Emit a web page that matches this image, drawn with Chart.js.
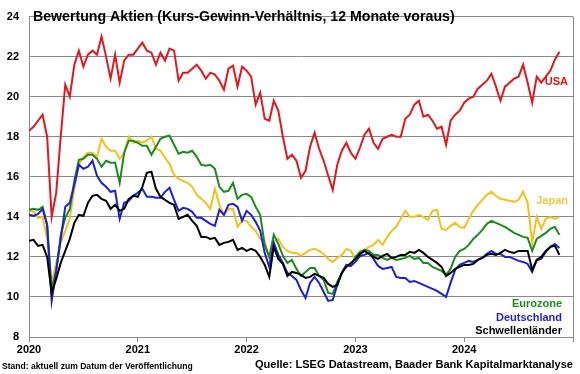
<!DOCTYPE html>
<html>
<head>
<meta charset="utf-8">
<script src="https://cdn.jsdelivr.net/npm/chart.js@4.4.1/dist/chart.umd.min.js"></script>
<style>
  html, body { margin: 0; padding: 0; background: #fff; }
  #wrap { width: 580px; height: 374px; }
</style>
</head>
<body>
<div id="wrap"><canvas id="peChart" width="580" height="374"></canvas></div>
<script>
// semi-monthly readings, first point = Jan 2020
const startYear = 2020;
const pointsPerYear = 24;

const usa = [
  18.3, 18.5, 18.8, 19.1, 18.0, 14.0, 15.2, 18.0, 20.6, 20.0, 21.6, 22.3, 21.5, 22.1, 22.3, 22.1, 23.0, 22.0, 20.9, 22.1, 20.7, 21.8, 22.1, 22.1, 22.4,
  22.7, 22.3, 22.2, 21.6, 22.2, 21.8, 22.4, 22.3, 20.8, 21.2, 21.2, 21.4, 21.6, 21.3, 20.9, 21.2, 21.1, 20.8, 20.35, 21.4, 21.55, 20.5, 21.5, 21.3,
  21.0, 19.6, 20.2, 18.9, 18.8, 19.8, 19.3, 18.0, 16.9, 17.1, 16.8, 15.95, 16.3, 17.5, 18.2, 17.4, 16.8, 16.05, 15.35, 16.6, 17.3, 17.7, 17.2, 16.9,
  17.45, 18.1, 18.4, 17.7, 17.4, 17.9, 18.0, 18.1, 18.0, 18.0, 18.9, 19.1, 19.6, 19.8, 19.0, 19.1, 18.8, 18.4, 18.5, 17.6, 18.8, 19.1, 19.3, 19.7,
  19.9, 20.0, 20.4, 20.6, 20.8, 21.15, 20.5, 19.8, 20.5, 20.7, 20.9, 21.0, 21.6, 20.7, 19.7, 21.0, 20.7, 21.0, 21.3, 21.85, 22.25
];

const japan = [
  14.35, 14.25, 13.95, 14.0, 12.9, 10.7, 11.7, 12.7, 13.3, 13.9, 15.4, 16.6, 17.0, 17.2, 17.2, 17.0, 17.9, 17.5, 17.3, 17.3, 16.9, 17.2, 18.0, 17.7, 17.8,
  17.7, 17.8, 18.0, 17.4, 17.3, 16.95, 16.65, 16.1, 15.9, 15.8, 15.7, 15.5, 15.1, 14.9, 14.7, 14.4, 15.4, 14.6, 14.1, 14.4, 14.4, 13.5, 13.8, 13.8,
  13.5, 13.3, 12.9, 12.75, 11.95, 12.8, 12.9, 12.5, 12.3, 12.2, 12.2, 12.05, 12.2, 12.35, 12.4, 12.3, 12.15, 11.9, 11.75, 11.95, 12.1, 12.4, 12.3, 11.9,
  12.0, 12.35, 12.5, 12.6, 12.85, 12.6, 13.0, 13.3, 13.5, 13.9, 14.3, 14.0, 14.0, 14.1, 14.0, 13.85, 14.3, 14.35, 13.4, 13.35, 13.55, 13.7, 13.5, 13.45,
  13.9, 14.3, 14.6, 14.85, 15.1, 15.25, 15.05, 14.9, 14.85, 14.8, 14.75, 14.85, 15.25, 14.7, 12.7, 14.0, 13.4, 13.9, 14.0, 13.9, 14.0
];

const eurozone = [
  14.35, 14.4, 14.35, 14.5, 13.6, 10.4, 11.3, 13.1, 13.95, 14.4, 15.8, 16.85, 16.9, 17.1, 17.1, 16.9, 16.5, 16.8, 16.7, 16.7, 15.7, 17.2, 17.8, 17.8, 17.7,
  17.55, 17.55, 17.1, 17.5, 17.9, 18.0, 18.05, 17.6, 17.15, 17.25, 17.2, 17.3, 17.0, 16.6, 16.55, 16.6, 16.4, 15.5, 15.25, 15.3, 15.7, 14.9, 15.1, 15.15,
  15.0, 14.5, 14.1, 12.6, 12.0, 13.1, 12.65, 12.05, 11.7, 11.85, 11.4, 11.05, 11.25, 11.45, 11.45, 11.05, 10.85, 10.2, 10.15, 10.75, 11.2, 11.6, 11.55, 12.0,
  12.25, 12.35, 12.3, 12.1, 12.1, 11.95, 11.85, 11.95, 11.85, 11.9, 11.95, 12.05, 11.9, 11.95, 11.7, 11.7, 11.5, 11.4, 11.3, 11.1, 11.4, 12.0, 12.3, 12.4,
  12.6, 12.9, 13.1, 13.35, 13.65, 13.8, 13.7, 13.6, 13.5, 13.35, 13.2, 13.1, 13.0, 12.95, 12.3, 12.9, 13.05, 13.2, 13.4, 13.5, 13.1
];

const deutschland = [
  14.1, 14.05, 14.15, 14.4, 13.6, 9.8, 11.3, 12.9, 14.5, 14.7, 15.6, 16.6, 16.4, 16.5, 16.8, 16.05, 15.7, 15.5, 15.25, 15.3, 13.9, 14.7, 14.8, 15.05, 15.2,
  15.4, 15.0, 15.0, 14.95, 14.95, 15.25, 15.45, 14.85, 14.3, 14.45, 14.4, 14.25, 13.95, 13.95, 13.8, 13.65, 13.55, 14.35, 14.1, 14.6, 14.65, 14.5, 13.8, 14.3,
  14.1, 13.75, 13.3, 12.2, 11.5, 12.7, 12.1, 11.7, 11.2, 11.05, 10.85, 10.35, 9.95, 10.7, 11.0, 10.7, 10.25, 9.8, 9.85, 10.6, 11.2, 11.6, 11.55, 11.75,
  12.05, 12.1, 12.2, 11.9, 11.55, 11.4, 11.45, 11.5, 11.0, 10.95, 10.95, 10.75, 10.8, 10.7, 10.6, 10.5, 10.4, 10.3, 10.15, 10.0, 10.7, 11.35, 11.6, 11.7,
  11.8, 11.75, 11.85, 11.95, 12.15, 12.3, 12.15, 12.15, 12.0, 12.0, 11.9, 11.8, 11.75, 11.65, 11.25, 11.85, 11.9, 12.25, 12.5, 12.65, 12.45
];

const schwellenlaender = [
  12.8, 12.85, 12.55, 12.6, 12.0, 10.2, 10.9, 11.7, 12.3, 12.9, 13.7, 14.1, 14.05, 14.7, 15.05, 15.1, 14.9, 14.8, 14.4, 14.6, 14.3, 14.4, 14.9, 15.05, 15.0,
  15.5, 16.2, 16.25, 15.4, 15.0, 14.85, 14.7, 14.6, 13.9, 14.0, 14.1, 13.8, 13.55, 13.0, 13.0, 12.9, 12.95, 12.6, 12.7, 12.75, 12.85, 12.35, 12.45, 12.3,
  12.4, 12.3, 12.0, 11.6, 11.0, 12.5, 11.9, 11.65, 11.05, 11.25, 11.2, 11.1, 10.95, 11.0, 11.15, 11.05, 10.95, 10.65, 10.5, 10.6, 11.2, 11.5, 11.7, 11.9,
  12.15, 12.3, 12.15, 12.0, 11.9, 12.05, 12.15, 11.95, 12.0, 12.1, 12.1, 12.25, 12.2, 12.35, 12.2, 12.0, 11.85, 11.7, 11.5, 11.05, 11.2, 11.4, 11.5, 11.6,
  11.6, 11.65, 11.85, 11.95, 12.1, 12.15, 12.1, 12.2, 12.35, 12.25, 12.2, 12.3, 12.3, 12.3, 11.35, 11.85, 12.0, 12.3, 12.5, 12.55, 12.1
];

const yearTicks = [2020, 2021, 2022, 2023, 2024];
const titleText = 'Bewertung Aktien (Kurs-Gewinn-Verhältnis, 12 Monate voraus)';
const noteText = 'Stand: aktuell zum Datum der Veröffentlichung';
const sourceText = 'Quelle: LSEG Datastream, Baader Bank Kapitalmarktanalyse';

const colors = {
  usa: '#e5161d',
  japan: '#f2c21b',
  eurozone: '#1d8a1d',
  deutschland: '#1f1fd6',
  schwellen: '#000000'
};
const gridGray = '#8a8a8a';
const fontFamily = '"Liberation Sans", Arial, sans-serif';

function toPoints(values) {
  return values.map((v, i) => ({ x: startYear + i / pointsPerYear, y: v }));
}

function line(label, values, color) {
  return {
    label: label,
    data: toPoints(values),
    borderColor: color,
    borderWidth: 2,
    pointRadius: 0,
    fill: false,
    tension: 0
  };
}

// scale a bold font so the text spans a given width
function fitFont(ctx, text, width) {
  ctx.font = 'bold 20px ' + fontFamily;
  const size = 20 * width / ctx.measureText(text).width;
  return 'bold ' + size.toFixed(2) + 'px ' + fontFamily;
}

const textPlugin = {
  id: 'texts',
  afterDraw(chart) {
    const ctx = chart.ctx;
    ctx.save();
    ctx.textBaseline = 'middle';

    ctx.fillStyle = '#000';
    ctx.textAlign = 'left';
    ctx.font = fitFont(ctx, titleText, 422);
    ctx.fillText(titleText, 33, 17.5);

    ctx.font = fitFont(ctx, noteText, 191);
    ctx.fillText(noteText, 2, 367);

    ctx.textAlign = 'right';
    ctx.font = fitFont(ctx, sourceText, 318);
    ctx.fillText(sourceText, 573, 365);

    ctx.font = 'bold 11px ' + fontFamily;
    ctx.fillStyle = colors.usa;
    ctx.fillText('USA', 568, 82);
    ctx.fillStyle = '#f5c842';
    ctx.fillText('Japan', 568, 201);
    ctx.fillStyle = colors.eurozone;
    ctx.fillText('Eurozone', 562, 304);
    ctx.fillStyle = colors.deutschland;
    ctx.fillText('Deutschland', 562, 318);
    ctx.fillStyle = colors.schwellen;
    ctx.fillText('Schwellenländer', 562, 331);
    ctx.restore();
  }
};

const chart = new Chart(document.getElementById('peChart'), {
  type: 'line',
  data: {
    datasets: [
      line('USA', usa, colors.usa),
      line('Schwellenländer', schwellenlaender, colors.schwellen),
      line('Deutschland', deutschland, colors.deutschland),
      line('Eurozone', eurozone, colors.eurozone),
      line('Japan', japan, colors.japan)
    ]
  },
  options: {
    responsive: false,
    animation: false,
    layout: { padding: { top: 8, right: 7, left: 0, bottom: 0 } },
    plugins: {
      legend: { display: false },
      tooltip: { enabled: false }
    },
    scales: {
      x: {
        type: 'linear',
        min: 2020,
        max: 2025,
        afterFit(scale) { scale.height = 37; },
        afterBuildTicks(scale) {
          scale.ticks = yearTicks.concat([2025]).map(v => ({ value: v }));
        },
        ticks: {
          color: '#000',
          padding: 1,
          maxRotation: 0,
          font: { family: fontFamily, size: 11, weight: 'bold' },
          callback: v => (yearTicks.includes(v) ? String(v) : '')
        },
        grid: {
          color: c => (c.tick && c.tick.value === 2025 ? gridGray : 'transparent'),
          tickColor: gridGray,
          tickLength: 5,
          lineWidth: 1
        },
        border: { color: gridGray, width: 1 }
      },
      y: {
        min: 8,
        max: 24,
        afterFit(scale) { scale.width = 29; },
        ticks: {
          stepSize: 2,
          color: '#000',
          padding: 10,
          font: { family: fontFamily, size: 11, weight: 'bold' }
        },
        grid: { color: gridGray, drawTicks: false, lineWidth: 1 },
        border: { color: gridGray, width: 1 }
      }
    }
  },
  plugins: [textPlugin]
});
</script>
</body>
</html>
